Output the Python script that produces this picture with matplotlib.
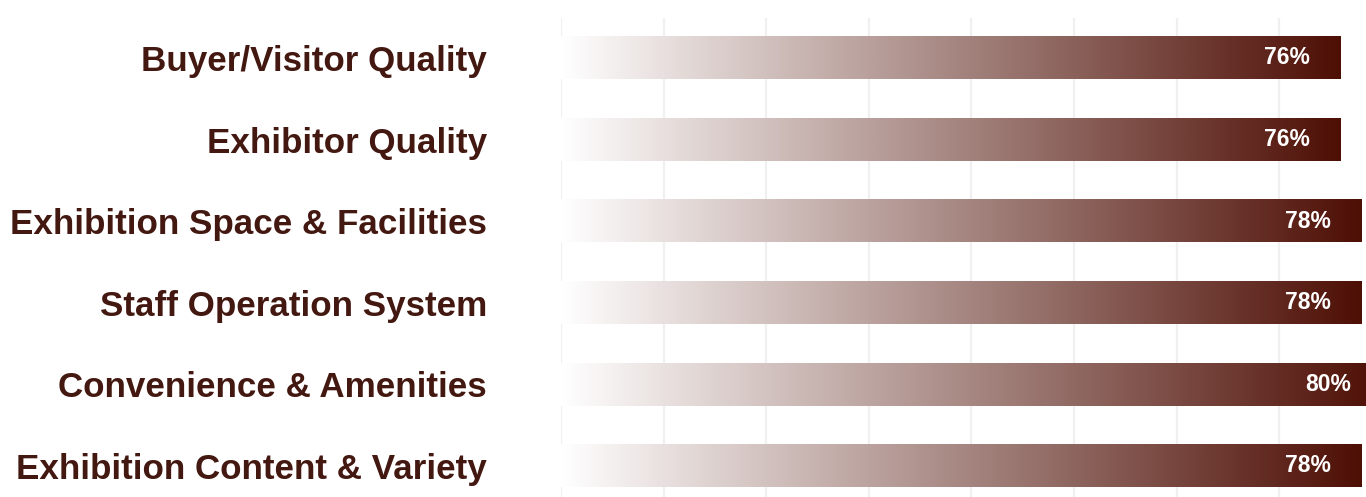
import numpy as np
import matplotlib
matplotlib.use("Agg")
import matplotlib.pyplot as plt
from matplotlib.colors import LinearSegmentedColormap

categories = ["Buyer/Visitor Quality", "Exhibitor Quality", "Exhibition Space & Facilities",
              "Staff Operation System", "Convenience & Amenities", "Exhibition Content & Variety"]
values = [76, 76, 78, 78, 80, 78]
grid_ticks = [0, 10, 20, 30, 40, 50, 60, 70]

W, H = 1366, 497
fig = plt.figure(figsize=(W / 100, H / 100), dpi=100)
left_px, top_px = 561, 18
ax = fig.add_axes([left_px / W, 0, (W - left_px) / W, (H - top_px) / H])

dark = "#4e0f05"
cmap = LinearSegmentedColormap.from_list("g", ["#ffffff", dark])
grad = np.linspace(0, 1, 512).reshape(1, -1)

bar_h = 0.52
for i, v in enumerate(values):
    ax.imshow(grad, cmap=cmap, aspect="auto", extent=[0, v, i + bar_h / 2, i - bar_h / 2],
              zorder=2, interpolation="bilinear")
    ax.text(v - 3, i, f"{v}%", ha="right", va="center", color="white",
            fontsize=16.5, fontweight="bold", family=["Liberation Sans", "DejaVu Sans"], zorder=3)

ax.set_xlim(0, (W - left_px) / 10.26)
ax.set_ylim(len(values) - 0.62, -0.49)
ax.set_xticks(grid_ticks)
ax.xaxis.grid(True, color="#f0f0f0", linewidth=1.6, zorder=0)
ax.set_axisbelow(True)
ax.tick_params(axis="x", length=0, labelbottom=False)
ax.set_yticks(range(len(categories)))
ax.set_yticklabels(categories, fontsize=25.2, fontweight="bold", color="#431810",
                   family=["Liberation Sans", "DejaVu Sans"])
ax.tick_params(axis="y", length=0, pad=(left_px - 487) * 0.72)
for s in ax.spines.values():
    s.set_visible(False)

fig.savefig("out.png", dpi=100, facecolor="white")
